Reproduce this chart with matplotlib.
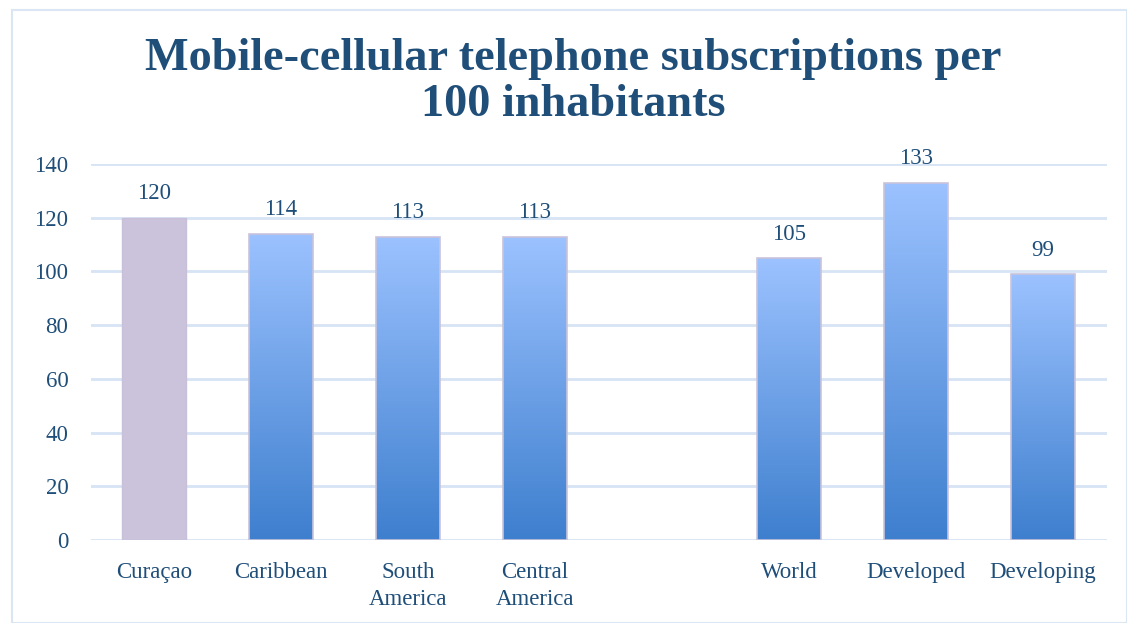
import numpy as np
import matplotlib.pyplot as plt
from matplotlib.patches import Rectangle

categories = ['Curaçao', 'Caribbean', 'South\nAmerica', 'Central\nAmerica', '',
              'World', 'Developed', 'Developing']
values = [120, 114, 113, 113, None, 105, 133, 99]
y_ticks = [0, 20, 40, 60, 80, 100, 120, 140]

text_color = '#1f4e79'
grid_color = '#d6e4f4'
highlight = '#cbc3dc'


def gradient_bar(ax, x, h, width):
    # vertical gradient light (top) -> darker blue (bottom)
    grad = np.linspace(0, 1, 256).reshape(-1, 1)
    top = np.array([0.612, 0.761, 1.0])
    bottom = np.array([0.243, 0.498, 0.808])
    img = bottom + (top - bottom) * grad
    img = img.reshape(256, 1, 3)
    im = ax.imshow(img, extent=(x - width / 2, x + width / 2, 0, h),
                   origin='lower', aspect='auto', zorder=3)
    rect = Rectangle((x - width / 2, 0), width, h, facecolor='none',
                     edgecolor='#c9c3da', linewidth=1.2, zorder=4)
    ax.add_patch(rect)
    im.set_clip_path(rect)


def main():
    fig = plt.figure(figsize=(11.27, 6.23), dpi=100)
    fig.patches.append(Rectangle((12 / 1127, 0), 1 - 12 / 1127, 1 - 10 / 623,
                                 transform=fig.transFigure, fill=False,
                                 edgecolor='#dae6f3', linewidth=1.5))
    ax = fig.add_axes([90.5 / 1127, (623 - 540) / 623, 1016 / 1127, 376 / 623])

    x = np.arange(len(categories))
    width = 0.5
    for i, v in enumerate(values):
        if v is None:
            continue
        if i == 0:
            ax.bar(x[i], v, width, color=highlight, edgecolor='#c8c0d8',
                   linewidth=1, zorder=3)
        else:
            gradient_bar(ax, x[i], v, width)
        ax.text(x[i], v + 5, str(v), ha='center', va='bottom', fontsize=16.5,
                color=text_color, family='Liberation Serif')

    ax.set_xlim(-0.5, len(categories) - 0.5)
    ax.set_ylim(0, 140)
    ax.set_yticks(y_ticks)
    ax.set_xticks(x)
    ax.set_xticklabels(categories, fontsize=16.5, color=text_color,
                       family='Liberation Serif', linespacing=1.38)
    ax.tick_params(axis='y', labelsize=16.5, labelcolor=text_color, length=0, pad=16)
    ax.tick_params(axis='x', length=0, pad=16)
    for lab in ax.get_yticklabels():
        lab.set_family('Liberation Serif')
    ax.grid(axis='y', color=grid_color, linewidth=2, zorder=0)
    ax.set_axisbelow(True)
    for s in ax.spines.values():
        s.set_visible(False)

    fig.text(0.509, 0.868, 'Mobile-cellular telephone subscriptions per\n100 inhabitants',
             ha='center', va='center', fontsize=33.3, fontweight='bold',
             color=text_color, family='Liberation Serif', linespacing=1.13)

    fig.savefig('out.png', dpi=100)


main()
